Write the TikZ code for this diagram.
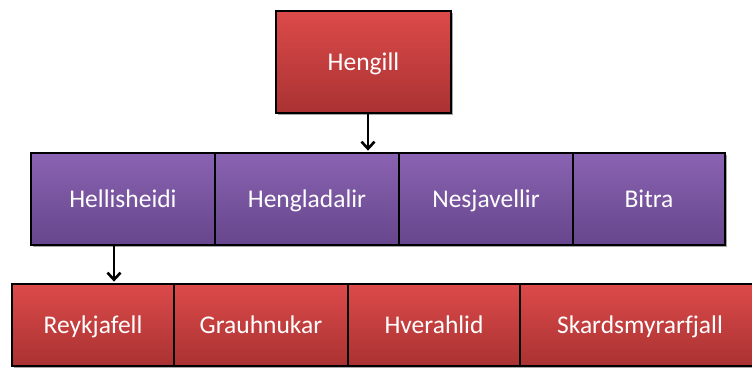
\documentclass[tikz,border=0pt]{standalone}
\usepackage{fontspec}
\setmainfont{Carlito}[Ligatures={NoCommon}]
\usetikzlibrary{arrows.meta,shadows}
\definecolor{redtop}{RGB}{220,74,74}
\definecolor{redbot}{RGB}{170,50,50}
\definecolor{purtop}{RGB}{138,99,178}
\definecolor{purbot}{RGB}{102,70,140}
\tikzset{
  box/.style={draw=black, line width=2.8pt, inner sep=0pt, font=\fontsize{25.5}{30}\selectfont, text=white,
    text height=16pt, text depth=0pt,
    drop shadow={shadow xshift=1.5pt, shadow yshift=-1.5pt, opacity=0.35, fill=black}},
  redbox/.style={box, top color=redtop, bottom color=redbot},
  purbox/.style={box, top color=purtop, bottom color=purbot},
  conn/.style={line width=2.6pt, -{Straight Barb[length=7pt,width=13pt,line width=2.6pt]}}
}
\begin{document}
\begin{tikzpicture}[x=1pt,y=1pt]
\useasboundingbox (0,0) rectangle (752,-367);
% top
\node[redbox, minimum width=175pt, minimum height=102pt] (hengill) at (363.5,-62) {Hengill};
% middle
\node[purbox, minimum width=184pt, minimum height=92pt] (hell) at (123,-199) {Hellisheidi};
\node[purbox, minimum width=184pt, minimum height=92pt] (heng) at (307,-199) {Hengladalir};
\node[purbox, minimum width=174pt, minimum height=92pt] (nesj) at (486,-199) {Nesjavellir};
\node[purbox, minimum width=152pt, minimum height=92pt] (bitra) at (649,-199) {Bitra};
% bottom
\node[redbox, minimum width=162pt, minimum height=82pt] (reyk) at (93,-325) {Reykjafell};
\node[redbox, minimum width=174pt, minimum height=82pt] (grau) at (261,-325) {Grauhnukar};
\node[redbox, minimum width=172pt, minimum height=82pt] (hver) at (434,-325) {Hverahlid};
\node[redbox, minimum width=240pt, minimum height=82pt] (skar) at (640,-325) {Skardsmyrarfjall};
% connectors
\draw[conn] ([xshift=4.5pt]hengill.south) -- ([xshift=4.5pt,yshift=1pt]hengill.south |- heng.north);
\draw[conn] ([xshift=-9pt]hell.south) -- ([xshift=-9pt,yshift=1pt]hell.south |- reyk.north);
\end{tikzpicture}
\end{document}
